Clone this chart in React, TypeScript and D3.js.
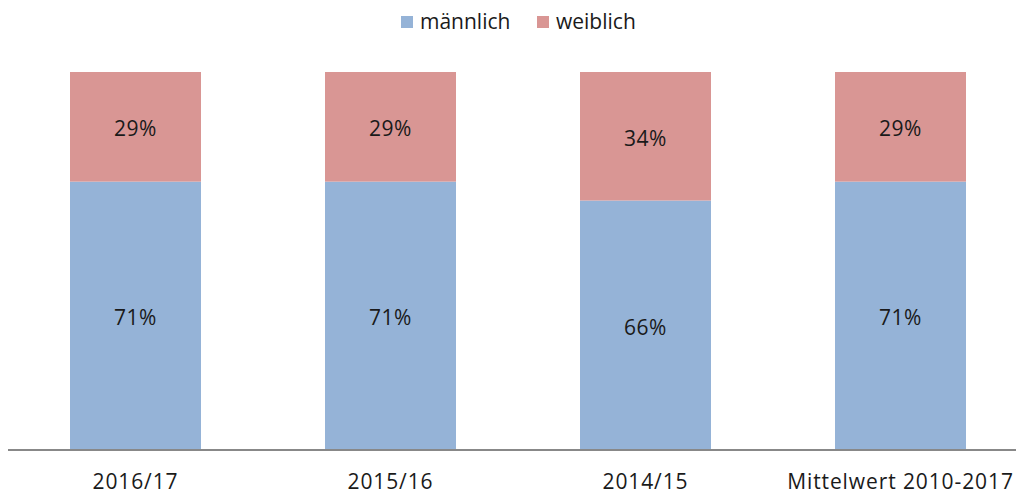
import React from "react";
import * as d3 from "d3";

const categories = ["2016/17", "2015/16", "2014/15", "Mittelwert 2010-2017"];
const maennlich = [71, 71, 66, 71];
const weiblich = [29, 29, 34, 29];
const seriesNames = ["männlich", "weiblich"];
const colors = ["#95B3D7", "#D99694"];

const W = 1016;
const H = 495;
const FONT = "'Open Sans', sans-serif";

export default function App() {
  const x = d3
    .scaleBand<string>()
    .domain(categories)
    .range([8, 1028])
    .paddingInner(1 - 131 / 255)
    .paddingOuter((1 - 131 / 255) / 2);
  const y = d3.scaleLinear().domain([0, 100]).range([450, 72]);

  const rows = categories.map((c, i) => ({ cat: c, m: maennlich[i], w: weiblich[i] }));
  const stack = d3.stack<any>().keys(["m", "w"])(rows);

  return (
    <svg width={W} height={H} style={{ display: "block", position: "absolute", left: 0, top: 0 }}>
      <rect width={W} height={H} fill="#fff" />
      {stack.map((s, si) => (
        <g key={si}>
          {s.map((d, i) => {
            const x0 = x(categories[i])!;
            const yTop = y(d[1]);
            const yBot = y(d[0]);
            const val = si === 0 ? maennlich[i] : weiblich[i];
            return (
              <g key={i}>
                <rect x={x0} y={yTop} width={x.bandwidth()} height={yBot - yTop} fill={colors[si]} />
                <text
                  x={x0 + x.bandwidth() / 2}
                  y={(yTop + yBot) / 2 + 2}
                  dy="0.35em"
                  textAnchor="middle"
                  fontFamily={FONT}
                  fontSize={21}
                  letterSpacing={0.5}
                  fill="#1a1a1a"
                >
                  {val}%
                </text>
              </g>
            );
          })}
        </g>
      ))}
      <line x1={8} x2={W} y1={450} y2={450} stroke="#888" strokeWidth={2} />
      {categories.map((c) => (
        <text
          key={c}
          x={x(c)! + x.bandwidth() / 2}
          y={482}
          dy="0.35em"
          textAnchor="middle"
          fontFamily={FONT}
          fontSize={21}
          letterSpacing={0.9}
          fill="#1a1a1a"
        >
          {c}
        </text>
      ))}
      <g fontFamily={FONT} fontSize={21} fill="#1a1a1a">
        <rect x={401} y={16} width={12} height={12} fill={colors[0]} />
        <text x={420} y={22} dy="0.35em">{seriesNames[0]}</text>
        <rect x={537} y={16} width={12} height={12} fill={colors[1]} />
        <text x={556} y={22} dy="0.35em">{seriesNames[1]}</text>
      </g>
    </svg>
  );
}
